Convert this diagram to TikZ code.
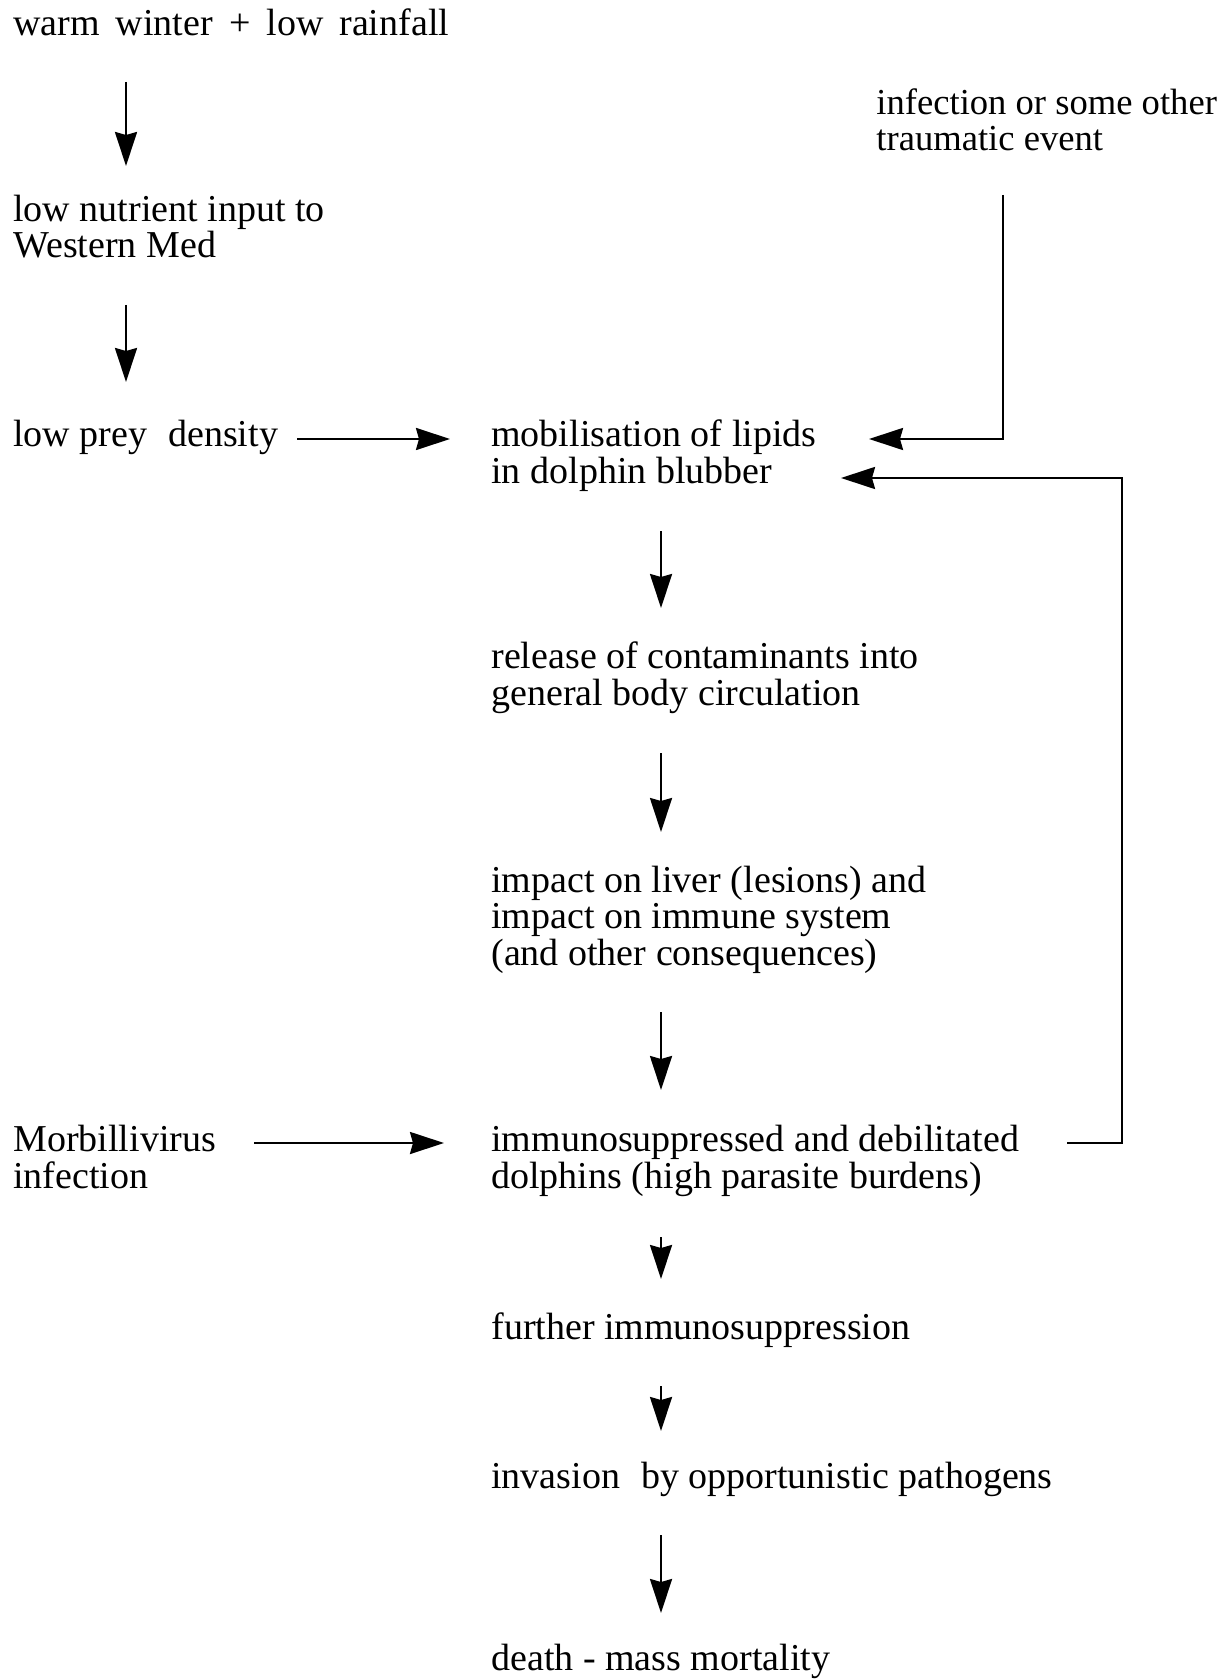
\documentclass[tikz,border=0pt]{standalone}
\usepackage{fontspec}
\setmainfont{Liberation Serif}
\usetikzlibrary{arrows.meta}
\begin{document}
\begin{tikzpicture}[x=0.5pt,y=-0.5pt,
  lbl/.style={anchor=base west,inner sep=0pt,align=left,font=\fontsize{19}{18.2}\selectfont},
  arr/.style={line width=1.2pt,-{Stealth[length=17pt,width=11pt,inset=1.5pt]}}]
\useasboundingbox (0,0) rectangle (1228,1679);
% nodes (base anchor = baseline of the last line)
\node[lbl] (warm) at (13,36) {\spaceskip=8pt warm winter + low rainfall};
\node[lbl] (nutr) at (13,258) {low nutrient input to\\Western Med};
\node[lbl] (prey) at (13,446) {low prey\hspace{0.3em} density};
\node[lbl,font=\fontsize{18.3}{18.2}\selectfont] (infe) at (876,151) {infection or some other\\traumatic event};
\node[lbl] (mobi) at (491,483) {mobilisation of lipids\\in dolphin blubber};
\node[lbl] (rele) at (491,705) {release of contaminants into\\general body circulation};
\node[lbl] (impa) at (491,965) {impact on liver (lesions) and\\impact on immune system\\(and other consequences)};
\node[lbl] (morb) at (13,1188) {Morbillivirus\\infection};
\node[lbl] (immu) at (491,1188) {immunosuppressed and debilitated\\dolphins (high parasite burdens)};
\node[lbl] (furt) at (491,1339) {further immunosuppression};
\node[lbl] (inva) at (491,1488) {invasion\hspace{0.3em} by opportunistic pathogens};
\node[lbl] (deat) at (491,1670) {death - mass mortality};
% connector end points
\coordinate (a1s) at (126,82);   \coordinate (a1e) at (126,166);
\coordinate (a2s) at (126,305);  \coordinate (a2e) at (126,382);
\coordinate (aps) at (297,439);  \coordinate (ape) at (450,439);
\coordinate (ais) at (1003,195); \coordinate (aic) at (1003,439); \coordinate (aie) at (869,439);
\coordinate (afs) at (1067,1143); \coordinate (afc1) at (1122,1143); \coordinate (afc2) at (1122,478); \coordinate (afe) at (841,478);
\coordinate (a3s) at (661,531);  \coordinate (a3e) at (661,608);
\coordinate (a4s) at (661,753);  \coordinate (a4e) at (661,832);
\coordinate (a5s) at (661,1012); \coordinate (a5e) at (661,1090);
\coordinate (ams) at (254,1143); \coordinate (ame) at (444,1143);
\coordinate (a6s) at (661,1237); \coordinate (a6e) at (661,1279);
\coordinate (a7s) at (661,1386); \coordinate (a7e) at (661,1431);
\coordinate (a8s) at (661,1535); \coordinate (a8e) at (661,1613);
% connectors
\draw[arr] (a1s) -- (a1e);
\draw[arr] (a2s) -- (a2e);
\draw[arr] (aps) -- (ape);
\draw[arr] (ais) -- (aic) -- (aie);
\draw[arr] (afs) -- (afc1) -- (afc2) -- (afe);
\draw[arr] (a3s) -- (a3e);
\draw[arr] (a4s) -- (a4e);
\draw[arr] (a5s) -- (a5e);
\draw[arr] (ams) -- (ame);
\draw[arr] (a6s) -- (a6e);
\draw[arr] (a7s) -- (a7e);
\draw[arr] (a8s) -- (a8e);
\end{tikzpicture}
\end{document}
